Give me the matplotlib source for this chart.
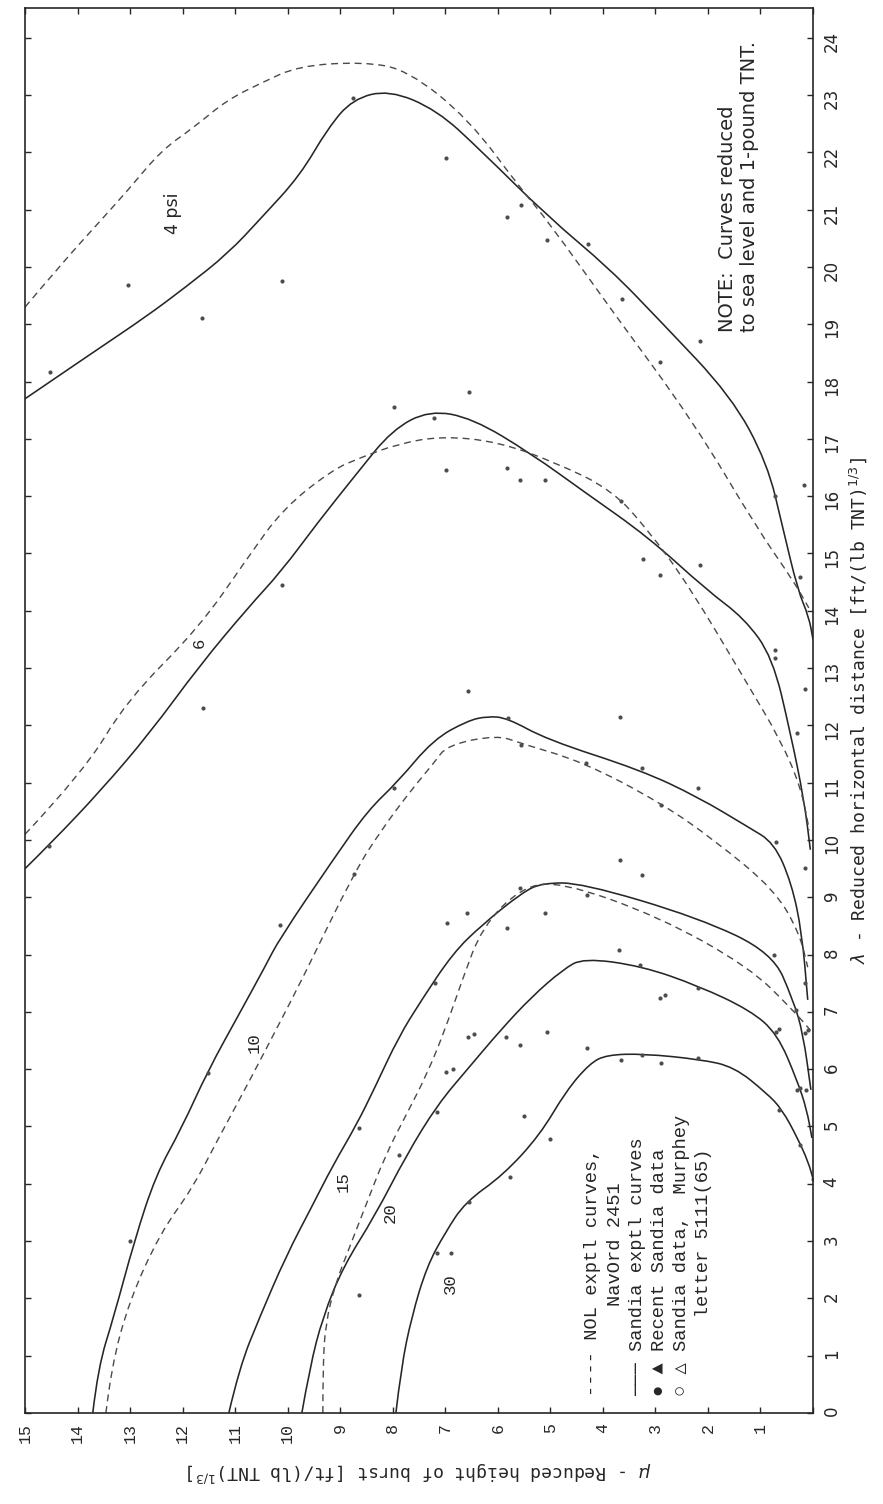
import matplotlib.pyplot as plt
from matplotlib.path import Path
from matplotlib.patches import PathPatch

# mu = reduced height of burst, lam = reduced horizontal distance
# 4 psi
psi4_sandia_mu = [15.0, 13.64, 12.70, 11.94, 11.13, 10.49, 9.77, 9.23, 8.76, 8.07, 7.16, 6.33, 5.06,
                  3.87, 2.89, 1.56, 0.87, 0.57, 0.29, 0.08, 0.0]
psi4_sandia_lam = [17.7, 18.55, 19.13, 19.65, 20.24, 20.87, 21.59, 22.43, 22.93, 23.09, 22.74, 22.04, 20.89,
                   19.97, 19.04, 17.75, 16.58, 15.43, 14.36, 13.9, 13.5]
psi4_nol_mu = [15.0, 14.29, 13.67, 13.04, 12.40, 11.78, 11.16, 10.51, 9.79, 8.56, 7.72, 6.55, 5.56, 5.06,
               3.86, 2.26, 1.06, 0.37, 0.08]
psi4_nol_lam = [19.3, 20.07, 20.70, 21.34, 22.04, 22.44, 22.91, 23.21, 23.51, 23.58, 23.44, 22.58, 21.36, 20.82,
                19.28, 17.28, 15.43, 14.52, 14.05]
# 6 psi
psi6_sandia_mu = [15.0, 14.50, 13.56, 12.62, 11.68, 10.74, 10.12, 9.42, 8.69, 8.01, 7.30, 6.48, 5.36, 4.33,
                  3.14, 2.02, 1.31, 0.77, 0.43, 0.17, 0.05]
psi6_sandia_lam = [9.5, 9.95, 10.86, 11.87, 13.04, 14.07, 14.69, 15.55, 16.39, 17.16, 17.50, 17.36, 16.74, 16.06,
                   15.29, 14.36, 13.87, 13.19, 11.87, 10.70, 9.83]
psi6_nol_mu = [15.0, 13.88, 13.06, 11.69, 10.75, 10.09, 9.15, 8.62, 7.91, 7.07, 5.99, 4.88, 3.83, 3.14,
               2.37, 1.26, 0.62, 0.23, 0.07]
psi6_nol_lam = [10.1, 11.19, 12.44, 13.70, 14.94, 15.78, 16.46, 16.67, 16.91, 17.05, 16.95, 16.58, 16.11, 15.41,
                14.45, 12.74, 11.75, 10.92, 10.17]
# 10 psi
psi10_sandia_mu = [13.71, 13.61, 13.31, 12.91, 12.51, 12.02, 11.52, 10.92, 10.43, 10.16, 9.11, 8.47, 7.91,
                   7.23, 6.58, 6.20, 5.82, 5.06, 3.28, 2.19, 1.24, 0.74, 0.41, 0.21, 0.10]
psi10_sandia_lam = [0.0, 0.79, 1.68, 3.03, 4.15, 4.97, 5.97, 6.97, 7.79, 8.27, 9.69, 10.52, 11.01,
                    11.75, 12.08, 12.16, 12.13, 11.75, 11.22, 10.75, 10.23, 9.95, 9.25, 8.38, 7.21]
psi10_nol_mu = [13.46, 13.36, 13.01, 12.42, 11.82, 11.32, 10.73, 10.13, 9.73, 8.73, 8.22, 7.65, 7.22,
                6.96, 6.01, 5.57, 4.37, 2.90, 1.88, 0.73, 0.26, 0.10]
psi10_nol_lam = [0.0, 0.79, 1.97, 3.15, 3.91, 4.79, 5.79, 6.85, 7.56, 9.44, 10.17, 10.87, 11.34,
                 11.66, 11.83, 11.69, 11.36, 10.65, 10.0, 9.13, 8.38, 7.78]
# 15 psi
psi15_sandia_mu = [11.12, 10.92, 10.53, 10.03, 9.53, 9.14, 8.69, 8.34, 7.89, 7.45, 6.85, 6.30, 5.54, 5.16,
                   4.40, 2.17, 0.77, 0.38, 0.19, 0.04]
psi15_sandia_lam = [0.0, 0.79, 1.68, 2.74, 3.62, 4.32, 5.03, 5.68, 6.56, 7.21, 8.03, 8.52, 9.08, 9.25,
                    9.25, 8.64, 8.03, 7.21, 6.63, 5.64]
psi15_nol_mu = [9.33, 9.33, 9.28, 9.09, 8.84, 8.54, 8.14, 7.74, 7.35, 7.0, 6.68, 6.30, 5.55, 4.79,
                2.93, 1.21, 0.38, 0.05]
psi15_nol_lam = [0.0, 0.79, 1.56, 2.26, 2.85, 3.56, 4.5, 5.21, 5.91, 6.7, 7.55, 8.48, 9.18, 9.27,
                 8.66, 7.78, 7.03, 6.68]
# 20 psi
psi20_sandia_mu = [9.73, 9.58, 9.33, 8.94, 8.34, 7.74, 7.15, 6.55, 5.95, 5.36, 4.76, 4.37, 3.26, 2.17,
                   1.2, 0.68, 0.3, 0.12, 0.02]
psi20_sandia_lam = [0.0, 0.79, 1.68, 2.56, 3.44, 4.5, 5.38, 6.03, 6.68, 7.26, 7.74, 7.94, 7.8, 7.45,
                    7.03, 6.62, 5.8, 5.3, 4.8]
# 30 psi
psi30_sandia_mu = [7.94, 7.84, 7.64, 7.35, 7.0, 6.62, 5.9, 5.2, 4.7, 4.25, 3.93, 3.23, 2.14, 1.5,
                   0.88, 0.59, 0.29, 0.09, 0.0]
psi30_sandia_lam = [0.0, 0.79, 1.68, 2.56, 3.15, 3.68, 4.15, 4.85, 5.62, 6.1, 6.25, 6.27, 6.17, 6.04,
                    5.58, 5.3, 4.79, 4.38, 4.09]

# test points (Sandia data)
data_mu = [14.53, 13.03, 11.63, 10.11, 8.76, 6.98, 5.83, 5.56, 5.06, 4.29, 3.64, 2.92, 2.16, 0.73, 0.18,
           0.73, 0.25, 0.16, 7.98, 7.22, 6.99, 6.55, 5.82, 5.58, 5.10, 3.66, 3.23, 2.92, 2.15, 10.11,
           11.61, 14.54, 6.57, 3.67, 0.30, 7.98, 5.81, 5.56, 4.33, 3.25, 2.18, 2.9, 0.70, 0.16, 3.67,
           3.25, 10.14, 8.73, 6.97, 6.59, 5.83, 5.10, 4.30, 5.58, 7.2, 6.56, 5.84, 5.58, 5.07, 6.98,
           4.31, 3.69, 3.29, 2.92, 2.19, 0.74, 0.70, 0.32, 0.15, 3.66, 3.26, 2.90, 2.18, 0.31, 0.14,
           0.15, 11.52, 8.64, 8.64, 7.89, 7.15, 6.85, 6.45, 5.51, 5.01, 5.76, 6.55, 7.15, 6.9, 2.82,
           0.64, 0.64, 0.24, 0.24, 0.0, 0.09, 13.0, 0.73]
data_lam = [18.17, 19.69, 19.11, 19.76, 22.95, 21.90, 20.87, 21.08, 20.47, 20.40, 19.44, 18.34, 18.71, 16.00, 16.20,
            13.32, 14.59, 12.64, 17.56, 17.37, 16.46, 17.82, 16.49, 16.28, 16.28, 15.92, 14.90, 14.62, 14.80, 14.45,
            12.30, 9.90, 12.60, 12.15, 11.87, 10.91, 12.13, 11.66, 11.34, 11.26, 10.91, 10.61, 9.97, 9.51, 9.65,
            9.39, 8.52, 9.41, 8.55, 8.73, 8.46, 8.73, 9.04, 9.16, 7.50, 6.56, 6.56, 6.42, 6.65, 5.95,
            6.37, 8.08, 7.82, 7.24, 7.42, 7.99, 6.65, 7.03, 6.63, 6.16, 6.25, 6.11, 6.2, 5.64, 5.64,
            7.5, 5.94, 2.06, 4.97, 4.5, 5.26, 6.0, 6.62, 5.18, 4.79, 4.12, 3.68, 2.79, 2.79, 7.29,
            6.71, 5.29, 5.68, 4.68, 4.09, 6.68, 3.0, 13.18]

mu_ticks = list(range(0, 16))
mu_ticklabels = [''] + [str(i) for i in range(1, 16)]
lam_ticks = list(range(0, 25))
lam_ticklabels = [str(i) for i in range(0, 25)]

# contour labels: text, mu, lam
curve_labels = [('4 psi', 12.19, 20.94), ('6', 11.68, 13.44), ('10', 10.63, 6.47),
                ('15', 8.94, 4.03), ('20', 8.04, 3.5), ('30', 6.90, 2.26)]

MONO = ['Liberation Mono', 'DejaVu Sans Mono']
INK = '#262626'


def smooth_path(mu, lam):
    # quadratic bezier through the midpoints, the read points act as control points
    pts = list(zip(mu, lam))
    verts = [pts[0]]
    codes = [Path.MOVETO]
    for i in range(1, len(pts) - 1):
        mid = ((pts[i][0] + pts[i + 1][0]) / 2, (pts[i][1] + pts[i + 1][1]) / 2)
        verts += [pts[i], mid]
        codes += [Path.CURVE3, Path.CURVE3]
    verts.append(pts[-1])
    codes.append(Path.LINETO)
    return Path(verts, codes)


fig = plt.figure(figsize=(8.83, 15.04), dpi=100)
ax = fig.add_axes([25/883, 91/1504, 788/883, 1405/1504])

solid = [(psi4_sandia_mu, psi4_sandia_lam), (psi6_sandia_mu, psi6_sandia_lam),
         (psi10_sandia_mu, psi10_sandia_lam), (psi15_sandia_mu, psi15_sandia_lam),
         (psi20_sandia_mu, psi20_sandia_lam), (psi30_sandia_mu, psi30_sandia_lam)]
dashed = [(psi4_nol_mu, psi4_nol_lam), (psi6_nol_mu, psi6_nol_lam),
          (psi10_nol_mu, psi10_nol_lam), (psi15_nol_mu, psi15_nol_lam)]

for m, l in solid:
    ax.add_patch(PathPatch(smooth_path(m, l), fill=False, edgecolor=INK, lw=1.15))
for m, l in dashed:
    ax.add_patch(PathPatch(smooth_path(m, l), fill=False, edgecolor='#4a4a4a', lw=1.0,
                           linestyle=(0, (5, 3.5))))

ax.plot(data_mu, data_lam, 'o', color='#4d4d4d', ms=3.0, mec='none')

for txt, m, l in curve_labels:
    fam = 'DejaVu Sans' if 'psi' in txt else MONO
    ax.text(m, l, txt, rotation=90, ha='center', va='center', fontsize=12.5,
            family=fam, color=INK)

ax.text(1.42, 18.87, 'NOTE:  Curves reduced\nto sea level and 1-pound TNT.',
        rotation=90, ha='center', va='bottom', multialignment='left',
        fontsize=14, family='DejaVu Sans', color=INK, linespacing=1.25)

legend_txt = ('---- NOL exptl curves,\n'
              '        NavOrd 2451\n'
              '\u2500\u2500\u2500 Sandia exptl curves\n'
              '\u25cf \u25b2 Recent Sandia data\n'
              '\u25cb \u25b3 Sandia data,  Murphey\n'
              '       letter 5111(65)')
ax.text(0.71, 0.012, legend_txt, transform=ax.transAxes, rotation=90,
        ha='left', va='bottom', multialignment='left', fontsize=13.5,
        family=MONO, color=INK, linespacing=1.4)

ax.set_xlim(15, 0)
ax.set_ylim(0, 24.52)
ax.set_xticks(mu_ticks)
ax.set_xticklabels(mu_ticklabels)
ax.set_yticks(lam_ticks)
ax.set_yticklabels(lam_ticklabels)
for lab in ax.get_xticklabels() + ax.get_yticklabels():
    lab.set_family(MONO)
ax.tick_params(axis='x', which='both', direction='in', top=True, bottom=True,
               length=4, width=1, labelrotation=90, labelsize=12, pad=7, colors=INK)
ax.tick_params(axis='y', which='both', direction='in', left=True, right=True,
               labelleft=False, labelright=True, length=4, width=1,
               labelrotation=90, labelsize=12, pad=7, colors=INK)
for sp in ax.spines.values():
    sp.set_linewidth(1.2)
    sp.set_color(INK)

ax.yaxis.set_label_position('right')
ax.set_ylabel(r'$\lambda$ - Reduced horizontal distance [ft/(lb TNT)$^{1/3}$]',
              family='DejaVu Sans Mono', fontsize=13, color=INK, labelpad=5)
ax.set_xlabel(r'$\mu$ - Reduced height of burst [ft/(lb TNT)$^{1/3}$]',
              family='DejaVu Sans Mono', fontsize=13, color=INK, rotation=180, labelpad=12)

fig.savefig('out.png', dpi=100, facecolor='white')
